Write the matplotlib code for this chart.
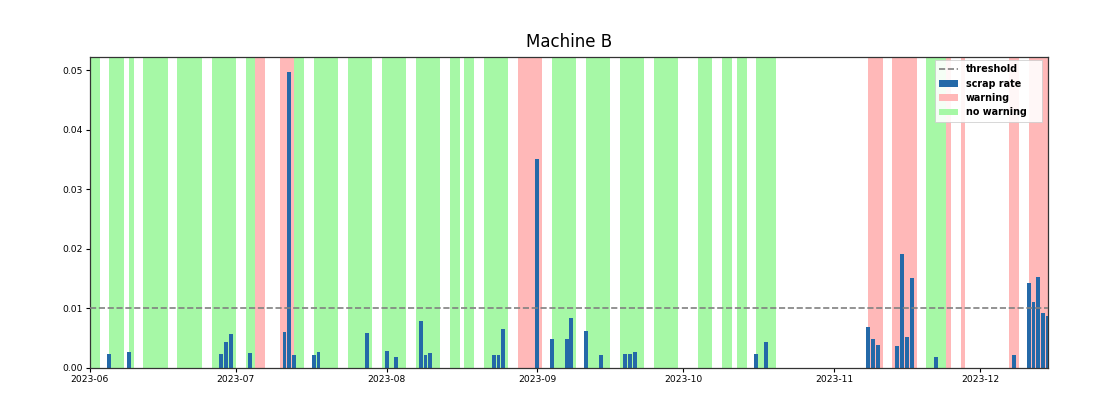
import matplotlib
matplotlib.use("Agg")
import matplotlib.pyplot as plt
import matplotlib.dates as mdates
from matplotlib.patches import Patch
from matplotlib.lines import Line2D
import pandas as pd

# ---- data ----
start_date = "2023-06-01"
end_date = "2023-12-15"

no_warning_days = [
    "2023-06-01", "2023-06-02", "2023-06-05", "2023-06-06", "2023-06-07", "2023-06-09",
    "2023-06-12", "2023-06-13", "2023-06-14", "2023-06-15", "2023-06-16",
    "2023-06-19", "2023-06-20", "2023-06-21", "2023-06-22", "2023-06-23",
    "2023-06-26", "2023-06-27", "2023-06-28", "2023-06-29", "2023-06-30",
    "2023-07-03", "2023-07-04", "2023-07-13", "2023-07-14",
    "2023-07-17", "2023-07-18", "2023-07-19", "2023-07-20", "2023-07-21",
    "2023-07-24", "2023-07-25", "2023-07-26", "2023-07-27", "2023-07-28",
    "2023-07-31", "2023-08-01", "2023-08-02", "2023-08-03", "2023-08-04",
    "2023-08-07", "2023-08-08", "2023-08-09", "2023-08-10", "2023-08-11",
    "2023-08-14", "2023-08-15", "2023-08-17", "2023-08-18",
    "2023-08-21", "2023-08-22", "2023-08-23", "2023-08-24", "2023-08-25",
    "2023-09-04", "2023-09-05", "2023-09-06", "2023-09-07", "2023-09-08",
    "2023-09-11", "2023-09-12", "2023-09-13", "2023-09-14", "2023-09-15",
    "2023-09-18", "2023-09-19", "2023-09-20", "2023-09-21", "2023-09-22",
    "2023-09-25", "2023-09-26", "2023-09-27", "2023-09-28", "2023-09-29",
    "2023-10-04", "2023-10-05", "2023-10-06", "2023-10-09", "2023-10-10",
    "2023-10-12", "2023-10-13", "2023-10-16", "2023-10-17", "2023-10-18", "2023-10-19",
    "2023-11-20", "2023-11-21", "2023-11-22", "2023-11-23",
]

warning_days = [
    "2023-07-05", "2023-07-06", "2023-07-10", "2023-07-11", "2023-07-12",
    "2023-08-28", "2023-08-29", "2023-08-30", "2023-08-31", "2023-09-01",
    "2023-11-08", "2023-11-09", "2023-11-10",
    "2023-11-13", "2023-11-14", "2023-11-15", "2023-11-16", "2023-11-17",
    "2023-11-24", "2023-11-27",
    "2023-12-07", "2023-12-08",
    "2023-12-11", "2023-12-12", "2023-12-13", "2023-12-14", "2023-12-15",
]

bar_dates = [
    "2023-06-05", "2023-06-09", "2023-06-28", "2023-06-29", "2023-06-30",
    "2023-07-04", "2023-07-11", "2023-07-12", "2023-07-13", "2023-07-17",
    "2023-07-18", "2023-07-28", "2023-08-01", "2023-08-03", "2023-08-08",
    "2023-08-09", "2023-08-10", "2023-08-23", "2023-08-24", "2023-08-25",
    "2023-09-01", "2023-09-04", "2023-09-07", "2023-09-08", "2023-09-11",
    "2023-09-14", "2023-09-19", "2023-09-20", "2023-09-21", "2023-10-16",
    "2023-10-18", "2023-11-08", "2023-11-09", "2023-11-10", "2023-11-14",
    "2023-11-15", "2023-11-16", "2023-11-17", "2023-11-22", "2023-12-08",
    "2023-12-11", "2023-12-12", "2023-12-13", "2023-12-14", "2023-12-15",
]
scrap_rate = [
    0.0024, 0.0027, 0.0024, 0.0044, 0.0057,
    0.0025, 0.0060, 0.0497, 0.0021, 0.0022,
    0.0027, 0.0059, 0.0029, 0.0019, 0.0078,
    0.0021, 0.0025, 0.0021, 0.0021, 0.0065,
    0.0350, 0.0049, 0.0048, 0.0084, 0.0062,
    0.0022, 0.0024, 0.0024, 0.0027, 0.0024,
    0.0043, 0.0068, 0.0048, 0.0038, 0.0037,
    0.0192, 0.0052, 0.0151, 0.0019, 0.0021,
    0.0142, 0.0110, 0.0152, 0.0093, 0.0088,
]
threshold = 0.01
title = "Machine B"

# ---- styling ----
GREEN = "#a6f8a6"
RED = "#ffb8b8"
BLUE = "#2469a8"

fig = plt.figure(figsize=(11.01, 3.95), dpi=100)
ax = fig.add_axes([0.0817, 0.0684, 0.8702, 0.7873])

one_day = pd.Timedelta(days=1)
for d in pd.to_datetime(no_warning_days):
    ax.axvspan(d, d + one_day, color=GREEN, linewidth=0, zorder=0)
for d in pd.to_datetime(warning_days):
    ax.axvspan(d, d + one_day, color=RED, linewidth=0, zorder=0)

ax.bar(pd.to_datetime(bar_dates), scrap_rate, width=0.8, color=BLUE, zorder=2)
ax.axhline(threshold, color="gray", linestyle="--", linewidth=1.2, zorder=3)

ax.set_xlim(pd.Timestamp(start_date), pd.Timestamp(end_date))
ax.set_ylim(0, max(scrap_rate) * 1.05)

ax.xaxis.set_major_locator(mdates.MonthLocator())
ax.xaxis.set_major_formatter(mdates.DateFormatter("%Y-%m"))
ax.tick_params(axis="both", labelsize=6.6, length=3, width=0.8, pad=2)
ax.yaxis.set_major_locator(matplotlib.ticker.MultipleLocator(0.01))
ax.yaxis.set_major_formatter(matplotlib.ticker.FormatStrFormatter("%.2f"))
for s in ax.spines.values():
    s.set_linewidth(0.9)
    s.set_color("#333333")

ax.set_title(title, fontsize=12, pad=7)

handles = [
    Line2D([0], [0], color="gray", linestyle="--", linewidth=1.2),
    Patch(facecolor=BLUE),
    Patch(facecolor=RED),
    Patch(facecolor=GREEN),
]
labels = ["threshold", "scrap rate", "warning", "no warning"]
leg = ax.legend(handles, labels, loc="upper right",
                bbox_to_anchor=(0.882, 0.60, 0.112, 0.39), mode="expand",
                prop={"size": 6.9, "weight": "bold"},
                framealpha=0.9, borderaxespad=0.0, handlelength=2.0,
                handletextpad=0.8, labelspacing=0.45, borderpad=0.45,
                fancybox=False)
leg.get_frame().set_linewidth(0.6)
leg.get_frame().set_edgecolor("#cccccc")

fig.savefig("out.png", dpi=100)
